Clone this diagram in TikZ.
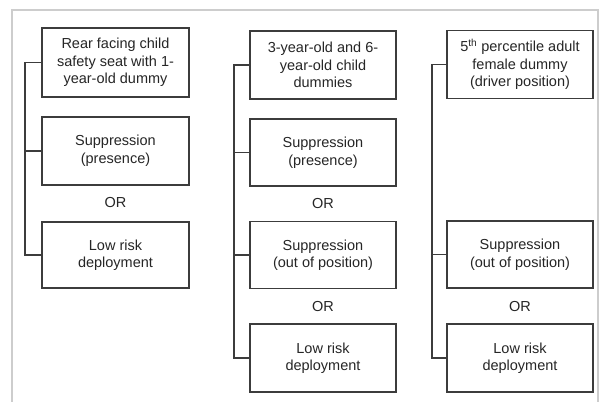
\documentclass[tikz,border=0pt]{standalone}
\usepackage{fontspec}
\setmainfont{Liberation Sans}
\definecolor{linec}{RGB}{60,60,60}
\definecolor{framec}{RGB}{205,205,205}
\begin{document}
\begin{tikzpicture}[x=1pt,y=-1pt,
  box/.style={draw=linec,line width=1.2pt,minimum width=146pt,minimum height=68pt,
    align=center,inner sep=2pt,font=\fontsize{14.5}{17.5}\selectfont,text=black!85},
  orlab/.style={font=\fontsize{14.5}{17.5}\selectfont,text=black!85,inner sep=0pt},
  conn/.style={draw=linec,line width=1.2pt}]
\useasboundingbox (0,0) rectangle (604,401);
\fill[white] (0,0) rectangle (604,401);
\draw[framec,line width=2.5pt] (12,402) -- (12,10) -- (598,10) -- (598,402);
% column 1
\node[box,minimum width=147pt,minimum height=69pt] (a1) at (115.5,62.5) {Rear facing child\\safety seat with 1-\\year-old dummy};
\node[box,minimum width=147pt] (a2) at (115.5,151) {Suppression\\(presence)};
\node[orlab] (aor) at (115.5,203) {OR};
\node[box,minimum width=147pt,minimum height=66pt] (a3) at (115.5,255) {Low risk\\deployment};
\coordinate (at) at (25,62.5);
\draw[conn] (a1.west) -- (at) |- (a3.west);
\draw[conn] (a2.west) -- (a2.west -| at);
% column 2
\node[box] (b1) at (323,65) {3-year-old and 6-\\year-old child\\dummies};
\node[box,minimum height=67pt] (b2) at (323,152.5) {Suppression\\(presence)};
\node[orlab] (bor1) at (323,204) {OR};
\node[box,minimum height=67pt] (b3) at (323,255) {Suppression\\(out of position)};
\node[orlab] (bor2) at (323,307) {OR};
\node[box] (b4) at (323,358) {Low risk\\deployment};
\coordinate (bt) at (234,65);
\draw[conn] (b1.west) -- (bt) |- (b4.west);
\draw[conn] (b2.west) -- (b2.west -| bt);
\draw[conn] (b3.west) -- (b3.west -| bt);
% column 3
\node[box] (c1) at (520,64.5) {5\textsuperscript{th} percentile adult\\female dummy\\(driver position)};
\node[box,minimum height=67pt] (c2) at (520,254.5) {Suppression\\(out of position)};
\node[orlab] (cor) at (520,307) {OR};
\node[box] (c3) at (520,358) {Low risk\\deployment};
\coordinate (ct) at (432,64.5);
\draw[conn] (c1.west) -- (ct) |- (c3.west);
\draw[conn] (c2.west) -- (c2.west -| ct);
\end{tikzpicture}
\end{document}
